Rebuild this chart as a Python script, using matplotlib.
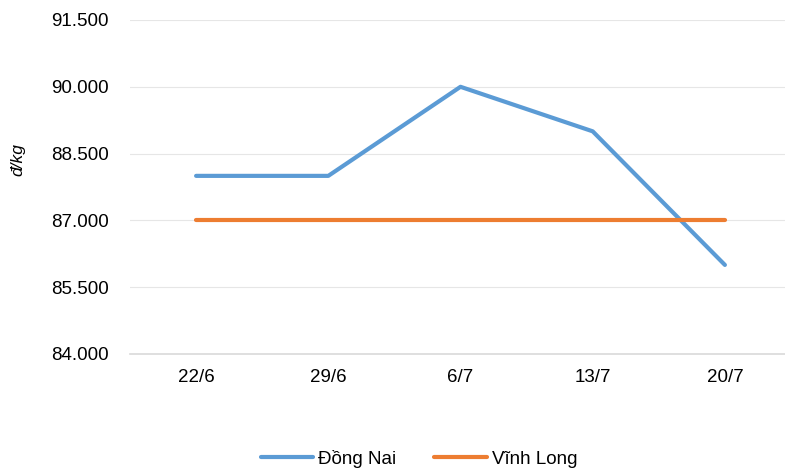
import matplotlib.pyplot as plt
from matplotlib.ticker import FuncFormatter

plt.rcParams['font.family'] = ['Liberation Sans', 'DejaVu Sans']

dates = ['22/6', '29/6', '6/7', '13/7', '20/7']
dong_nai = [88000, 88000, 90000, 89000, 86000]
vinh_long = [87000, 87000, 87000, 87000, 87000]
yticks = [84000, 85500, 87000, 88500, 90000, 91500]

fig = plt.figure(figsize=(7.85, 4.71), dpi=100)
ax = fig.add_axes([130/785, 117/471, 661/785, 334/471])

x = range(len(dates))
ax.plot(x, dong_nai, color='#5B9BD5', lw=3, solid_capstyle='round', label='Đồng Nai')
ax.plot(x, vinh_long, color='#ED7D31', lw=3, solid_capstyle='round', label='Vĩnh Long')

ax.set_xlim(-0.5, len(dates) - 0.5)
ax.set_ylim(84000, 91500)
ax.set_yticks(yticks)
ax.yaxis.set_major_formatter(FuncFormatter(lambda v, p: f'{v:,.0f}'.replace(',', '.')))
ax.set_xticks(list(x))
ax.set_xticklabels(dates)
ax.tick_params(length=0, labelsize=13.5, colors='black')
ax.tick_params(axis='y', pad=15.5)
ax.tick_params(axis='x', pad=11)
ax.grid(axis='y', color='#E6E6E6', lw=0.8)
ax.set_axisbelow(True)
for s in ['top', 'right', 'left']:
    ax.spines[s].set_visible(False)
ax.spines['bottom'].set_color('#D9D9D9')
ax.spines['bottom'].set_linewidth(1.2)

fig.text(18/785, 1 - 160/471, 'đ/kg', rotation=90, style='italic',
         fontsize=12.5, ha='center', va='center')

fig.legend(loc='center', bbox_to_anchor=(419/785, 1 - 459/471), ncol=2,
           frameon=False, fontsize=13.5, handlelength=2.8, handletextpad=0.27,
           columnspacing=2.0, borderpad=0)

fig.savefig('out.png', dpi=100)
